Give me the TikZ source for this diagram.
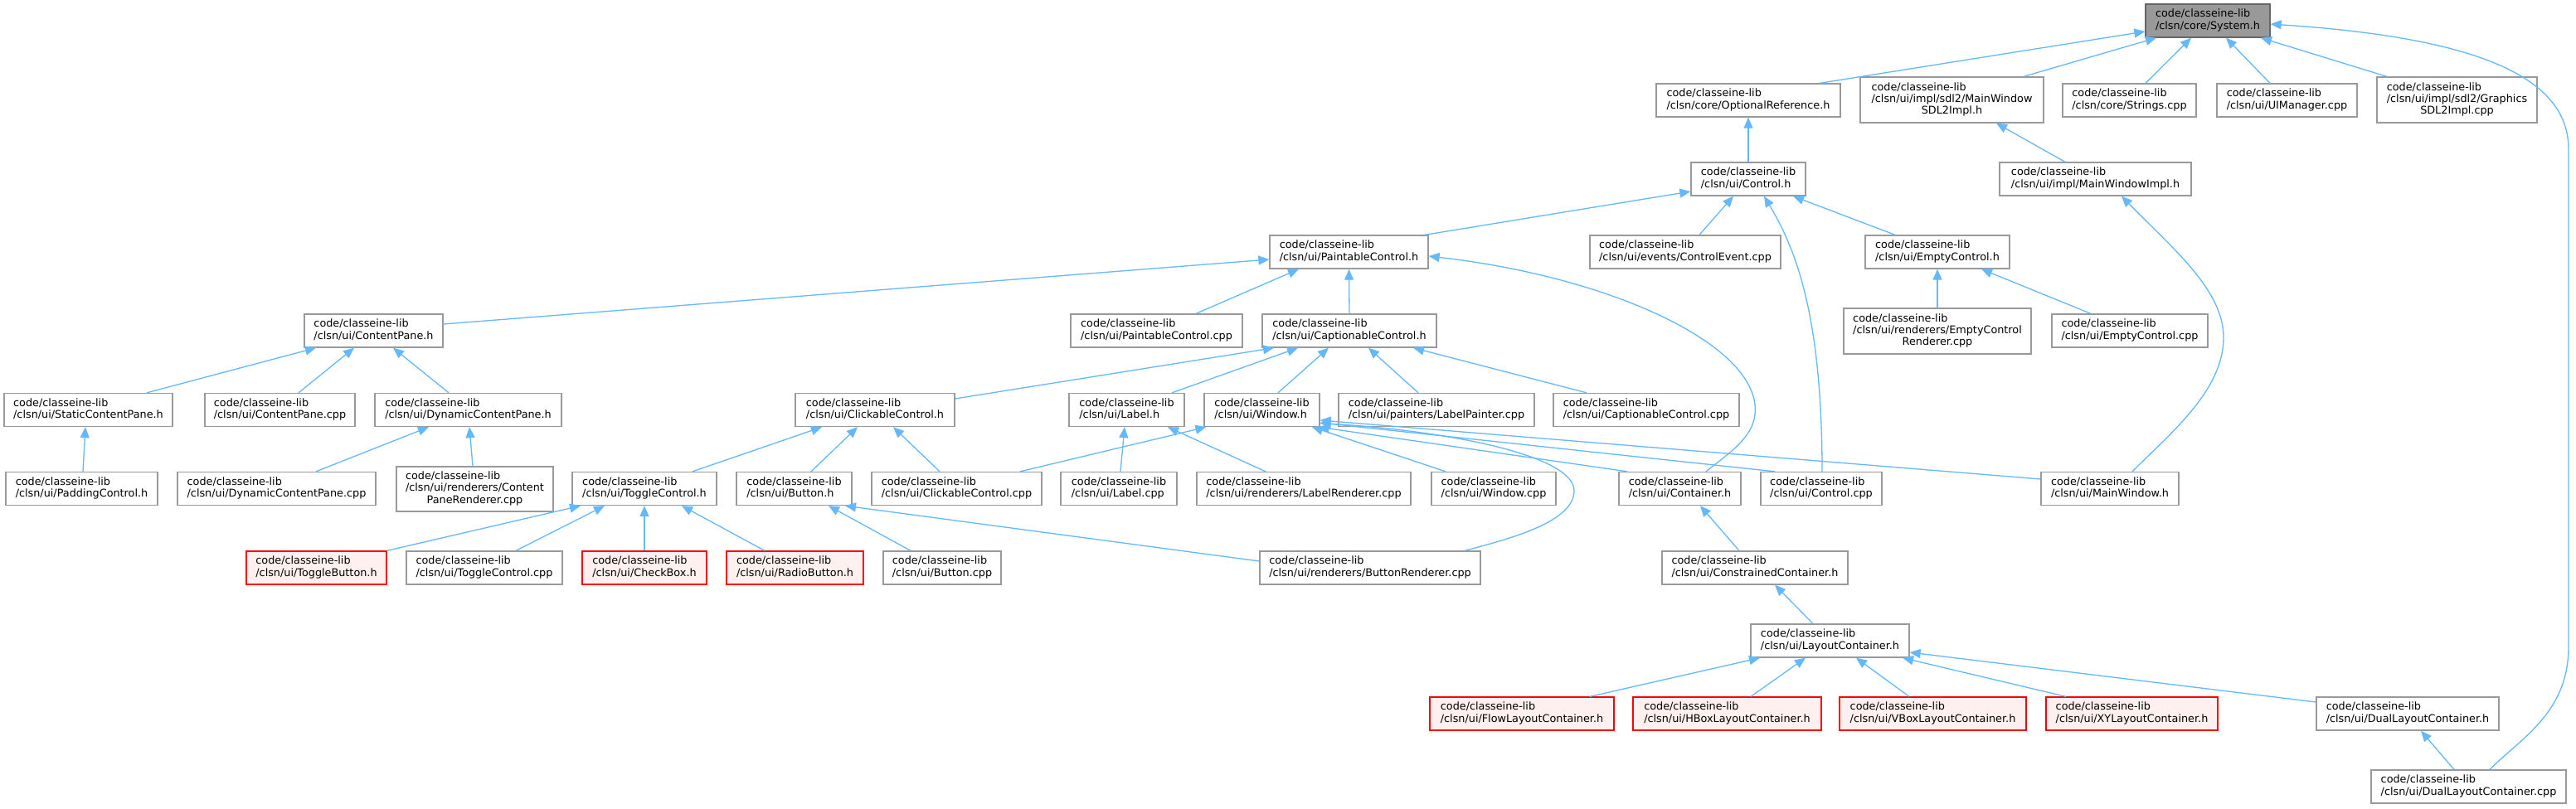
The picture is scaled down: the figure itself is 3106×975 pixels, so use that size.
\documentclass[tikz,border=0pt]{standalone}
\usepackage{fontspec}
\setmainfont{DejaVu Sans}
\usetikzlibrary{arrows.meta}
\definecolor{edgeblue}{HTML}{63B8FF}
\definecolor{nodeborder}{HTML}{999999}
\definecolor{rootfill}{HTML}{999999}
\definecolor{rootborder}{HTML}{666666}
\definecolor{redfill}{HTML}{FFF0F0}
\definecolor{redborder}{HTML}{FF0000}
\newcommand{\DoxTwo}[1]{\begin{tabular}{@{}l@{}}code/classeine-lib\\#1\end{tabular}}
\newcommand{\DoxThree}[2]{\begin{tabular}{@{}l@{}}code/classeine-lib\\#1\\\multicolumn{1}{@{}c@{}}{#2}\end{tabular}}
\tikzset{
  box/.style={rectangle, draw=nodeborder, fill=white, line width=1.3pt, inner sep=0pt,
    minimum height=40pt, font=\fontsize{12.8}{14.3}\selectfont, text=black},
  rootbox/.style={box, fill=rootfill, draw=rootborder},
  redbox/.style={box, fill=redfill, draw=redborder},
  dep/.style={draw=edgeblue, line width=1.3pt, {Triangle[length=13pt,width=11pt]}-},
}
\begin{document}
\begin{tikzpicture}[x=1pt,y=-1pt]
\fill[white] (0,0) rectangle (3106,975);
\useasboundingbox (0,0) rectangle (3106,975);

% row 0
\node[rootbox, minimum width=150pt] (sys) at (2662,25) {\DoxTwo{/clsn/core/System.h}};
% row 1
\node[box, minimum width=222pt] (optref) at (2108,121) {\DoxTwo{/clsn/core/OptionalReference.h}};
\node[box, minimum width=221pt, minimum height=55pt] (mwsdl) at (2353.5,120.5) {\DoxThree{/clsn/ui/impl/sdl2/MainWindow}{SDL2Impl.h}};
\node[box, minimum width=161pt] (strings) at (2567.5,121) {\DoxTwo{/clsn/core/Strings.cpp}};
\node[box, minimum width=169pt] (uimgr) at (2757.5,121) {\DoxTwo{/clsn/ui/UIManager.cpp}};
\node[box, minimum width=193pt, minimum height=55pt] (gfx) at (2962.5,120.5) {\DoxThree{/clsn/ui/impl/sdl2/Graphics}{SDL2Impl.cpp}};
% row 2
\node[box, minimum width=138pt] (control) at (2108,216) {\DoxTwo{/clsn/ui/Control.h}};
\node[box, minimum width=231pt] (mwimpl) at (2526.5,216) {\DoxTwo{/clsn/ui/impl/MainWindowImpl.h}};
% row 3
\node[box, minimum width=191pt] (paintable) at (1626.5,304) {\DoxTwo{/clsn/ui/PaintableControl.h}};
\node[box, minimum width=230pt] (ctrlevent) at (2032,304) {\DoxTwo{/clsn/ui/events/ControlEvent.cpp}};
\node[box, minimum width=174pt] (emptyctrl) at (2336,304) {\DoxTwo{/clsn/ui/EmptyControl.h}};
% row 4
\node[box, minimum width=167pt] (contentpane) at (450.5,399) {\DoxTwo{/clsn/ui/ContentPane.h}};
\node[box, minimum width=207pt] (paintcpp) at (1394.5,399) {\DoxTwo{/clsn/ui/PaintableControl.cpp}};
\node[box, minimum width=210pt] (caption) at (1627,399) {\DoxTwo{/clsn/ui/CaptionableControl.h}};
\node[box, minimum width=226pt, minimum height=55pt] (emptyrend) at (2336,399.5) {\DoxThree{/clsn/ui/renderers/EmptyControl}{Renderer.cpp}};
\node[box, minimum width=188pt] (emptycpp) at (2568,399) {\DoxTwo{/clsn/ui/EmptyControl.cpp}};
% row 5
\node[box, minimum width=203pt] (staticcp) at (106.5,494.5) {\DoxTwo{/clsn/ui/StaticContentPane.h}};
\node[box, minimum width=181pt] (cpcpp) at (337.5,494.5) {\DoxTwo{/clsn/ui/ContentPane.cpp}};
\node[box, minimum width=225pt] (dyncp) at (564.5,494.5) {\DoxTwo{/clsn/ui/DynamicContentPane.h}};
\node[box, minimum width=192pt] (clickable) at (1055,494.5) {\DoxTwo{/clsn/ui/ClickableControl.h}};
\node[box, minimum width=139pt] (label) at (1358.5,494.5) {\DoxTwo{/clsn/ui/Label.h}};
\node[box, minimum width=139pt] (window) at (1521.5,494.5) {\DoxTwo{/clsn/ui/Window.h}};
\node[box, minimum width=236pt] (lpainter) at (1732,494.5) {\DoxTwo{/clsn/ui/painters/LabelPainter.cpp}};
\node[box, minimum width=224pt] (capcpp) at (1985,494.5) {\DoxTwo{/clsn/ui/CaptionableControl.cpp}};
% row 6
\node[box, minimum width=183pt] (padding) at (98.5,589.5) {\DoxTwo{/clsn/ui/PaddingControl.h}};
\node[box, minimum width=239pt] (dyncpcpp) at (333.5,589.5) {\DoxTwo{/clsn/ui/DynamicContentPane.cpp}};
\node[box, minimum width=189pt, minimum height=54pt] (cprend) at (572.5,590) {\DoxThree{/clsn/ui/renderers/Content}{PaneRenderer.cpp}};
\node[box, minimum width=174pt] (toggle) at (777,589.5) {\DoxTwo{/clsn/ui/ToggleControl.h}};
\node[box, minimum width=139pt] (button) at (957.5,589.5) {\DoxTwo{/clsn/ui/Button.h}};
\node[box, minimum width=205pt] (clickcpp) at (1153.5,589.5) {\DoxTwo{/clsn/ui/ClickableControl.cpp}};
\node[box, minimum width=140pt] (labelcpp) at (1349,589.5) {\DoxTwo{/clsn/ui/Label.cpp}};
\node[box, minimum width=258pt] (labelrend) at (1572,589.5) {\DoxTwo{/clsn/ui/renderers/LabelRenderer.cpp}};
\node[box, minimum width=150pt] (windowcpp) at (1801,589.5) {\DoxTwo{/clsn/ui/Window.cpp}};
\node[box, minimum width=147pt] (container) at (2025.5,589.5) {\DoxTwo{/clsn/ui/Container.h}};
\node[box, minimum width=146pt] (controlcpp) at (2196,589.5) {\DoxTwo{/clsn/ui/Control.cpp}};
\node[box, minimum width=166pt] (mainwindow) at (2544,589.5) {\DoxTwo{/clsn/ui/MainWindow.h}};
% row 7
\node[redbox, minimum width=169pt] (togglebtn) at (381.5,685) {\DoxTwo{/clsn/ui/ToggleButton.h}};
\node[box, minimum width=188pt] (togglecpp) at (584,685) {\DoxTwo{/clsn/ui/ToggleControl.cpp}};
\node[redbox, minimum width=150pt] (checkbox) at (777,685) {\DoxTwo{/clsn/ui/CheckBox.h}};
\node[redbox, minimum width=165pt] (radio) at (958.5,685) {\DoxTwo{/clsn/ui/RadioButton.h}};
\node[box, minimum width=142pt] (buttoncpp) at (1136,685) {\DoxTwo{/clsn/ui/Button.cpp}};
\node[box, minimum width=266pt] (buttonrend) at (1652,685) {\DoxTwo{/clsn/ui/renderers/ButtonRenderer.cpp}};
\node[box, minimum width=224pt] (constrained) at (2116,685) {\DoxTwo{/clsn/ui/ConstrainedContainer.h}};
% row 8
\node[box, minimum width=191pt] (layout) at (2206.5,773) {\DoxTwo{/clsn/ui/LayoutContainer.h}};
% row 9
\node[redbox, minimum width=222pt] (flow) at (1835,861) {\DoxTwo{/clsn/ui/FlowLayoutContainer.h}};
\node[redbox, minimum width=227pt] (hbox) at (2082.5,861) {\DoxTwo{/clsn/ui/HBoxLayoutContainer.h}};
\node[redbox, minimum width=225pt] (vbox) at (2330.5,861) {\DoxTwo{/clsn/ui/VBoxLayoutContainer.h}};
\node[redbox, minimum width=207pt] (xy) at (2570.5,861) {\DoxTwo{/clsn/ui/XYLayoutContainer.h}};
\node[box, minimum width=220pt] (dualh) at (2903,861) {\DoxTwo{/clsn/ui/DualLayoutContainer.h}};
% row 10
\node[box, minimum width=235pt] (dualcpp) at (2976.5,949) {\DoxTwo{/clsn/ui/DualLayoutContainer.cpp}};

% edges (tip at the included file)
\draw[dep] ([yshift=-13pt]sys.west) -- ([xshift=86pt]optref.north);
\draw[dep] ([xshift=-62pt]sys.south) -- ([xshift=86.5pt]mwsdl.north);
\draw[dep] ([xshift=-20pt]sys.south) -- ([xshift=19.5pt]strings.north);
\draw[dep] ([xshift=22pt]sys.south) -- ([xshift=-20.5pt]uimgr.north);
\draw[dep] ([xshift=64pt]sys.south) -- ([xshift=-84.5pt]gfx.north);
\draw[dep] ([yshift=-4pt]sys.east) .. controls (2980,45) and (3097,90) .. (3097,180) -- (3097,780) .. controls (3097,860) and (3040,890) .. ([xshift=25.5pt]dualcpp.north);

\draw[dep] (optref.south) -- (control.north);
\draw[dep] ([xshift=53.5pt]mwsdl.south) -- ([xshift=-36.5pt]mwimpl.north);

\draw[dep] ([yshift=-15pt]control.west) -- ([xshift=91.5pt]paintable.north);
\draw[dep] ([xshift=-18pt]control.south) -- ([xshift=17pt]ctrlevent.north);
\draw[dep] ([xshift=19pt]control.south) .. controls (2165,300) and (2197,380) .. ([xshift=1pt]controlcpp.north);
\draw[dep] ([xshift=54pt]control.south) -- ([xshift=-51pt]emptyctrl.north);
\draw[dep] ([xshift=31.5pt]mwimpl.south) .. controls (2620,300) and (2681,350) .. (2681,407) .. controls (2681,470) and (2620,520) .. ([xshift=27pt]mainwindow.north);

\draw[dep] ([yshift=-9pt]paintable.west) -- ([yshift=8pt]contentpane.east);
\draw[dep] ([xshift=-60.5pt]paintable.south) -- ([xshift=47.5pt]paintcpp.north);
\draw[dep] (paintable.south) -- (caption.north);
\draw[dep] ([yshift=-5pt]paintable.east) .. controls (1950,335) and (2125,420) .. (2116,500) .. controls (2113,530) and (2080,550) .. ([xshift=31.5pt]container.north);

\draw[dep] (emptyctrl.south) -- (emptyrend.north);
\draw[dep] ([xshift=53pt]emptyctrl.south) -- ([xshift=-47pt]emptycpp.north);

\draw[dep] ([xshift=-69.5pt]contentpane.south) -- ([xshift=70.5pt]staticcp.north);
\draw[dep] ([xshift=-23.5pt]contentpane.south) -- ([xshift=22.5pt]cpcpp.north);
\draw[dep] ([xshift=23.5pt]contentpane.south) -- ([xshift=-23.5pt]dyncp.north);
\draw[dep] ([xshift=-3.5pt]staticcp.south) -- ([xshift=1.5pt]padding.north);
\draw[dep] ([xshift=-47.5pt]dyncp.south) -- ([xshift=47.5pt]dyncpcpp.north);
\draw[dep] ([xshift=1.5pt]dyncp.south) -- ([xshift=-2.5pt]cprend.north);

\draw[dep] ([xshift=-91pt]caption.south) -- ([yshift=13.5pt]clickable.east);
\draw[dep] ([xshift=-62pt]caption.south) -- ([xshift=54.5pt]label.north);
\draw[dep] ([xshift=-25pt]caption.south) -- ([xshift=19.5pt]window.north);
\draw[dep] ([xshift=23pt]caption.south) -- ([xshift=-22pt]lpainter.north);
\draw[dep] ([xshift=77pt]caption.south) -- ([xshift=-72pt]capcpp.north);

\draw[dep] ([xshift=-64pt]clickable.south) -- ([xshift=58pt]toggle.north);
\draw[dep] ([xshift=-21pt]clickable.south) -- ([xshift=20.5pt]button.north);
\draw[dep] ([xshift=22pt]clickable.south) -- ([xshift=-20.5pt]clickcpp.north);

\draw[dep] ([xshift=3pt]window.south west) -- ([xshift=76.5pt]clickcpp.north);
\draw[dep] ([xshift=-2.5pt]label.south) -- ([xshift=2pt]labelcpp.north);
\draw[dep] ([xshift=49.5pt]label.south) -- ([xshift=-46pt]labelrend.north);
\draw[dep] ([xshift=60.5pt]window.south) -- ([xshift=-58pt]windowcpp.north);
\draw[dep] ([xshift=-2pt]window.south east) -- ([xshift=-63.5pt]container.north);
\draw[dep] ([yshift=-15.5pt]window.east) -- ([xshift=-56pt]controlcpp.north);
\draw[dep] ([yshift=-12.5pt]window.east) -- ([yshift=11.5pt]mainwindow.west);
\draw[dep] ([yshift=-16pt]window.east) .. controls (1750,520) and (1898,550) .. (1898,592) .. controls (1898,630) and (1820,650) .. ([xshift=114pt]buttonrend.north);

\draw[dep] ([xshift=-77pt]toggle.south) -- (togglebtn.north east);
\draw[dep] ([xshift=-48pt]toggle.south) -- ([xshift=38pt]togglecpp.north);
\draw[dep] (toggle.south) -- (checkbox.north);
\draw[dep] ([xshift=45pt]toggle.south) -- ([xshift=-36.5pt]radio.north);
\draw[dep] ([xshift=41.5pt]button.south) -- ([xshift=-38pt]buttoncpp.north);
\draw[dep] ([xshift=61.5pt]button.south) -- ([yshift=8pt]buttonrend.west);

\draw[dep] ([xshift=24.5pt]container.south) -- ([xshift=-19pt]constrained.north);
\draw[dep] ([xshift=24pt]constrained.south) -- ([xshift=-20.5pt]layout.north);
\draw[dep] ([xshift=-84.5pt]layout.south) -- ([xshift=82pt]flow.north);
\draw[dep] ([xshift=-29.5pt]layout.south) -- ([xshift=28.5pt]hbox.north);
\draw[dep] ([xshift=31.5pt]layout.south) -- ([xshift=-28.5pt]vbox.north);
\draw[dep] ([xshift=87.5pt]layout.south) -- ([xshift=-79.5pt]xy.north);
\draw[dep] ([yshift=-14pt]layout.east) -- ([yshift=14pt]dualh.west);
\draw[dep] ([xshift=16pt]dualh.south) -- ([xshift=-17.5pt]dualcpp.north);
\end{tikzpicture}
\end{document}
